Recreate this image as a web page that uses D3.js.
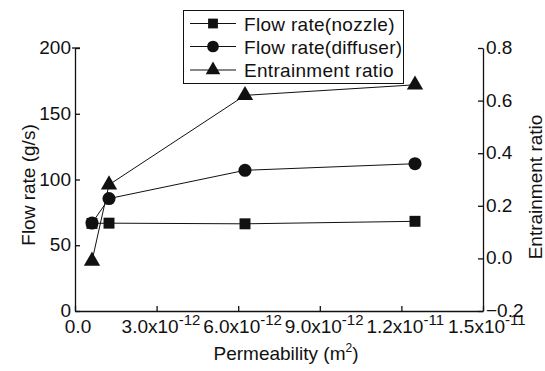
<!DOCTYPE html>
<html>
<head>
<meta charset="utf-8">
<script src="https://cdn.jsdelivr.net/npm/d3@7"></script>
<style>
  html, body { margin: 0; padding: 0; background: #fff; }
  svg { display: block; font-family: "Liberation Sans", Arial, sans-serif; }
</style>
</head>
<body>
<svg id="chart" width="545" height="371"></svg>
<script>
// Permeability of the porous section (m^2)
const permeability = [6.25e-13, 1.25e-12, 6.25e-12, 1.25e-11];
// Flow rates (g/s)
const flowNozzle = [66.6, 66.8, 66.3, 68.2];
const flowDiffuser = [66.9, 85.5, 107, 112];
// Entrainment ratio (right axis)
const entrainment = [-0.01, 0.28, 0.62, 0.66];

const xTicks = [0, 3e-12, 6e-12, 9e-12, 1.2e-11, 1.5e-11];
const xTickLabels = [
  { base: "0.0", exp: "" },
  { base: "3.0x10", exp: "-12" },
  { base: "6.0x10", exp: "-12" },
  { base: "9.0x10", exp: "-12" },
  { base: "1.2x10", exp: "-11" },
  { base: "1.5x10", exp: "-11" }
];
const leftTicks = [0, 50, 100, 150, 200];
const rightTicks = [-0.2, 0.0, 0.2, 0.4, 0.6, 0.8];
const legendLabels = ["Flow rate(nozzle)", "Flow rate(diffuser)", "Entrainment ratio"];

const svg = d3.select("#chart");
const ink = "#111";
const fs = 19;

const plotLeft = 75, plotRight = 483, plotTop = 48, plotBottom = 311;

const x = d3.scaleLinear().domain([0, 1.5e-11]).range([plotLeft, plotRight]);
const yL = d3.scaleLinear().domain([0, 200]).range([plotBottom, plotTop]);
const yR = d3.scaleLinear().domain([-0.2, 0.8]).range([plotBottom, plotTop]);

// Axes: ticks point inward
const xAxis = d3.axisBottom(x).tickValues(xTicks).tickSizeInner(-5).tickSizeOuter(0).tickFormat("");
const gx = svg.append("g").attr("transform", `translate(0,${plotBottom})`).call(xAxis);
const lAxis = d3.axisLeft(yL).tickValues(leftTicks).tickSizeInner(-5).tickSizeOuter(0).tickFormat("");
const gl = svg.append("g").attr("transform", `translate(${plotLeft},0)`).call(lAxis);
const rAxis = d3.axisRight(yR).tickValues(rightTicks).tickSizeInner(-5).tickSizeOuter(0).tickFormat("");
const gr = svg.append("g").attr("transform", `translate(${plotRight},0)`).call(rAxis);
[gx, gl, gr].forEach(g => {
  g.selectAll("path, line").attr("stroke", ink).attr("stroke-width", 1.3);
});
// small crossing tick at the top of the left axis
svg.append("line").attr("x1", plotLeft - 3).attr("x2", plotLeft + 5)
  .attr("y1", yL(200)).attr("y2", yL(200)).attr("stroke", ink).attr("stroke-width", 1.3);

// Tick labels (bottom): base number with a raised exponent
const xl = svg.append("g").attr("font-size", fs).attr("fill", ink);
xTicks.forEach((v, i) => {
  const lab = xTickLabels[i];
  const t = xl.append("text").attr("y", 333);
  if (lab.exp) {
    t.attr("x", x(v) - 35).attr("text-anchor", "start");
  } else {
    t.attr("x", x(v) + 3).attr("text-anchor", "middle");
  }
  t.append("tspan").text(lab.base);
  if (lab.exp) {
    t.append("tspan").attr("font-size", 15).attr("dy", -8).text(lab.exp);
  }
});
const ll = svg.append("g").attr("font-size", fs).attr("fill", ink).attr("text-anchor", "end");
leftTicks.forEach(v => {
  ll.append("text").attr("x", plotLeft - 4).attr("y", yL(v) + 6).text(d3.format("d")(v));
});
const rl = svg.append("g").attr("font-size", fs).attr("fill", ink).attr("text-anchor", "start");
rightTicks.forEach(v => {
  rl.append("text").attr("x", plotRight + 3).attr("y", yR(v) + 6).text(d3.format(".1f")(v));
});

// Axis titles
const xt = svg.append("text").attr("x", 286).attr("y", 360).attr("text-anchor", "middle")
  .attr("font-size", fs).attr("fill", ink);
xt.append("tspan").text("Permeability (m");
xt.append("tspan").attr("font-size", 12).attr("dy", -8).text("2");
xt.append("tspan").attr("dy", 8).text(")");
svg.append("text").attr("transform", `translate(35,185) rotate(-90)`).attr("text-anchor", "middle")
  .attr("font-size", fs).attr("fill", ink).text("Flow rate (g/s)");
svg.append("text").attr("transform", `translate(542,187) rotate(-90)`).attr("text-anchor", "middle")
  .attr("font-size", fs).attr("fill", ink).text("Entrainment ratio");

// Series
const series = [
  { values: flowNozzle, y: yL, symbol: d3.symbolSquare, size: 120 },
  { values: flowDiffuser, y: yL, symbol: d3.symbolCircle, size: 135 },
  { values: entrainment, y: yR, symbol: d3.symbolTriangle, size: 115 }
];
const lineGen = (ys) => d3.line().x((d, i) => x(permeability[i])).y(d => ys(d));
series.forEach(s => {
  svg.append("path").datum(s.values).attr("d", lineGen(s.y))
    .attr("fill", "none").attr("stroke", ink).attr("stroke-width", 1);
});
series.forEach(s => {
  svg.append("g").selectAll("path").data(s.values).join("path")
    .attr("transform", (d, i) => `translate(${x(permeability[i])},${s.y(d)})`)
    .attr("d", d3.symbol().type(s.symbol).size(s.size)).attr("fill", ink);
});

// Legend
const lg = svg.append("g");
lg.append("rect").attr("x", 183.5).attr("y", 10.5).attr("width", 220).attr("height", 73)
  .attr("fill", "#fff").attr("stroke", ink).attr("stroke-width", 1);
const rowY = [23.5, 46.5, 70];
series.forEach((s, i) => {
  lg.append("line").attr("x1", 190).attr("x2", 236).attr("y1", rowY[i]).attr("y2", rowY[i])
    .attr("stroke", ink).attr("stroke-width", 1);
  lg.append("path").attr("transform", `translate(213,${rowY[i]})`)
    .attr("d", d3.symbol().type(s.symbol).size(s.size * 0.8)).attr("fill", ink);
  lg.append("text").attr("x", 244).attr("y", rowY[i] + 7).attr("font-size", fs).attr("fill", ink)
    .attr("letter-spacing", 0.3).text(legendLabels[i]);
});
</script>
</body>
</html>
